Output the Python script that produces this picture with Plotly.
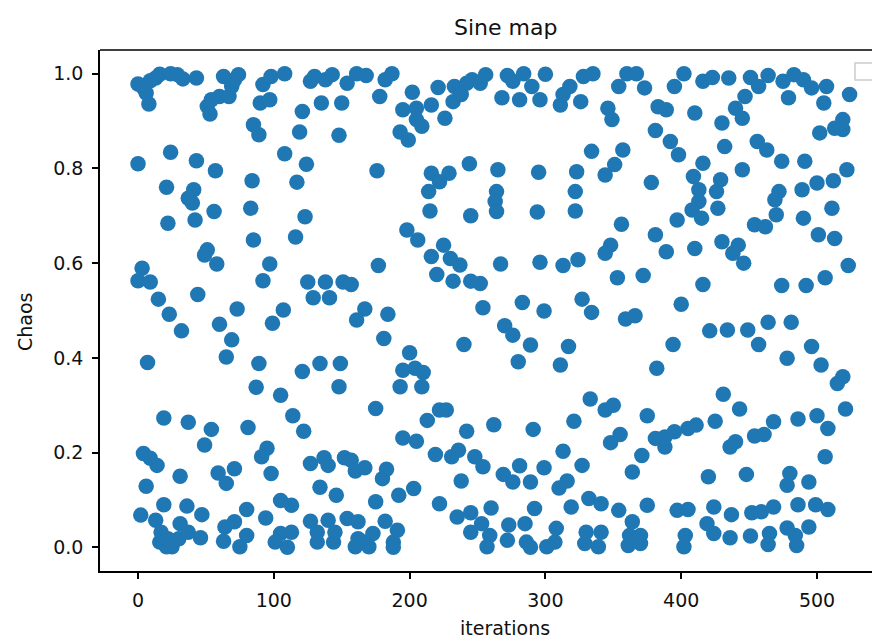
import plotly.graph_objects as go

# Sine map orbit: iteration index and state value
iterations = [
    0, 4, 6, 8, 9, 13, 16, 24, 29, 33, 43, 51, 53, 54, 60, 67, 69, 71, 63, 74,
    85, 89, 92, 90, 97, 98, 108, 108, 84, 83, 56, 42, 22, 21, 37, 41, 40, 57, 43, 24, 0,
    127, 130, 138, 143, 154, 161, 168, 182, 187, 178, 135, 150, 121, 119, 148, 124, 117, 123,
    176, 202, 221, 195, 205, 216, 209, 205, 193, 199, 226, 232, 233, 238, 242, 246, 244,
    216, 229, 222, 214, 215, 245, 198,
    252, 256, 272, 276, 284, 290, 300, 268, 281, 296, 311, 313, 318, 326, 328, 335, 354,
    360, 367, 373, 346, 349, 383, 381, 334, 357, 351, 344, 323, 295, 265, 264, 263, 264,
    294, 322, 322, 378, 356,
    402, 395, 416, 423, 435, 451, 457, 464, 475, 483, 490, 496, 507, 479, 505, 524, 447,
    440, 445, 430, 410, 389, 392, 398, 432, 456, 463, 416, 445, 474, 491, 502, 513, 519,
    519, 522, 512, 500, 489, 472, 469, 470, 490, 511, 429, 426, 427, 409, 413, 413, 408,
    415, 397, 454,
    85, 116, 51, 49, 58, 97, 92, 3, 0, 9, 15, 23, 32, 44, 73, 60, 69, 65, 7, 89, 87, 105, 107, 99,
    206, 225, 216, 230, 237, 220, 232, 245, 177, 125, 138, 151, 157, 129, 141, 167, 161, 184,
    181, 240, 200, 195, 204, 210, 209, 193, 134, 149, 121, 148,
    381, 348, 344, 353, 372, 267, 296, 313, 324, 252, 254, 283, 299, 327, 334, 359, 366, 270,
    276, 289, 317, 280, 311, 382,
    389, 410, 430, 442, 438, 446, 462, 501, 513, 523, 506, 492, 474, 416, 400, 421, 434, 449,
    464, 481, 457, 496, 478, 503, 519, 515, 394, 431,
    19, 37, 54, 81, 114, 49, 4, 9, 14, 31, 6, 59, 65, 71, 95, 91, 98, 19, 36, 47, 80, 94, 105,
    2, 13, 17, 16, 25, 21, 22, 31, 30, 37, 46, 64, 71, 63, 75, 80, 105, 101, 110,
    175, 122, 222, 227, 213, 195, 205, 242, 219, 231, 236, 248, 127, 137, 140, 152, 157, 160,
    167, 180, 183, 134, 146, 175, 192, 203, 222, 238, 113, 235, 245, 127, 140, 154, 162, 182,
    191, 113, 132, 132, 144, 145, 162, 167, 173, 188, 188, 170, 160,
    344, 350, 321, 375, 262, 291, 348, 355, 381, 313, 254, 269, 281, 276, 289, 299, 310, 316,
    327, 371, 364, 332, 341, 354, 364, 375, 319, 292, 260, 253, 273, 285, 259, 257, 272, 286,
    289, 301, 307, 308, 330, 341, 329, 339, 362, 370, 361, 370, 245, 333,
    443, 521, 500, 486, 508, 468, 425, 411, 405, 395, 388, 388, 440, 436, 454, 461, 506, 420,
    448, 480, 478, 494, 397, 405, 424, 437, 452, 459, 468, 486, 499, 508, 419, 424, 436, 451,
    465, 464, 478, 494, 484, 485, 403, 402,
]

chaos = [
    0.978, 0.970, 0.959, 0.936, 0.985, 0.991, 0.999, 1.000, 0.998, 0.989, 0.991, 0.931, 0.915,
    0.945, 0.952, 0.952, 0.973, 0.987, 0.994, 0.998,
    0.892, 0.871, 0.977, 0.938, 0.945, 0.994, 1.000, 0.831, 0.774, 0.716, 0.709, 0.691, 0.684,
    0.760, 0.737, 0.755, 0.727, 0.795, 0.816, 0.834, 0.810,
    0.984, 0.994, 0.987, 0.998, 0.980, 1.000, 0.996, 0.987, 1.000, 0.952, 0.938, 0.938, 0.920,
    0.877, 0.870, 0.809, 0.771, 0.698,
    0.795, 0.961, 0.971, 0.924, 0.927, 0.934, 0.889, 0.903, 0.877, 0.860, 0.906, 0.941, 0.973,
    0.956, 0.980, 0.987, 0.810,
    0.790, 0.790, 0.772, 0.751, 0.710, 0.700, 0.670,
    0.980, 0.998, 0.996, 0.984, 1.000, 0.973, 0.999, 0.949, 0.945, 0.945, 0.934, 0.956, 0.973,
    0.941, 0.994, 1.000, 0.973,
    1.000, 1.000, 0.970, 0.927, 0.903, 0.930, 0.880, 0.836, 0.839, 0.808, 0.786, 0.793, 0.792,
    0.797, 0.751, 0.730, 0.709,
    0.708, 0.751, 0.710, 0.770, 0.682,
    1.000, 0.973, 0.984, 0.992, 0.991, 0.992, 0.973, 0.996, 0.984, 0.998, 0.987, 0.970, 0.973,
    0.949, 0.938, 0.956, 0.952,
    0.927, 0.906, 0.896, 0.917, 0.924, 0.857, 0.829, 0.846, 0.857, 0.839, 0.811, 0.797, 0.815,
    0.815, 0.875, 0.885, 0.903,
    0.882, 0.797, 0.774, 0.769, 0.755, 0.751, 0.734, 0.702, 0.695, 0.716, 0.776, 0.751, 0.716,
    0.783, 0.755, 0.730, 0.712,
    0.695, 0.691, 0.681,
    0.649, 0.655, 0.628, 0.617, 0.598, 0.598, 0.563, 0.589, 0.563, 0.560, 0.524, 0.492, 0.457,
    0.534, 0.503, 0.471, 0.438, 0.402, 0.390, 0.388, 0.338, 0.321, 0.501, 0.473,
    0.649, 0.638, 0.614, 0.610, 0.596, 0.576, 0.562, 0.562, 0.595, 0.560, 0.560, 0.560, 0.555,
    0.527, 0.527, 0.503, 0.480, 0.492,
    0.441, 0.428, 0.411, 0.374, 0.378, 0.369, 0.339, 0.339, 0.388, 0.388, 0.371, 0.339,
    0.660, 0.638, 0.621, 0.569, 0.574, 0.598, 0.602, 0.595, 0.607, 0.557, 0.506, 0.517, 0.499,
    0.524, 0.496, 0.482, 0.489, 0.468,
    0.448, 0.427, 0.424, 0.392, 0.385, 0.378,
    0.624, 0.631, 0.645, 0.638, 0.621, 0.600, 0.677, 0.660, 0.652, 0.595, 0.569, 0.553, 0.553,
    0.555, 0.513, 0.457, 0.459, 0.459,
    0.475, 0.475, 0.428, 0.424, 0.399, 0.385, 0.360, 0.346, 0.428, 0.323,
    0.273, 0.264, 0.249, 0.253, 0.278, 0.216, 0.198, 0.188, 0.173, 0.150, 0.129, 0.157, 0.135,
    0.166, 0.209, 0.191, 0.156, 0.090, 0.087, 0.069, 0.080, 0.062, 0.099,
    0.068, 0.057, 0.032, 0.011, 0.001, 0.001, 0.018, 0.050, 0.018, 0.032, 0.020, 0.043, 0.054,
    0.013, 0.001, 0.025, 0.029, 0.011, 0.000,
    0.293, 0.245, 0.290, 0.290, 0.268, 0.231, 0.224, 0.245, 0.196, 0.191, 0.205, 0.191, 0.177,
    0.189, 0.173, 0.189, 0.184, 0.161,
    0.168, 0.145, 0.165, 0.127, 0.110, 0.096, 0.110, 0.124, 0.092, 0.140, 0.089, 0.064, 0.073,
    0.055, 0.057, 0.061, 0.054, 0.055,
    0.036, 0.032, 0.032, 0.011, 0.011, 0.032, 0.018, 0.011, 0.029, 0.011, 0.000, 0.001, 0.001,
    0.290, 0.300, 0.266, 0.278, 0.259, 0.249, 0.221, 0.238, 0.230, 0.203, 0.170, 0.154, 0.172,
    0.138, 0.138, 0.168, 0.125, 0.140,
    0.173, 0.194, 0.159, 0.103, 0.092, 0.078, 0.054, 0.089, 0.085, 0.082, 0.083, 0.050, 0.047,
    0.050, 0.025, 0.001, 0.015, 0.011,
    0.000, 0.001, 0.011, 0.040, 0.032, 0.032, 0.008, 0.001, 0.025, 0.025, 0.004, 0.008, 0.032,
    0.313,
    0.292, 0.292, 0.278, 0.271, 0.251, 0.265, 0.266, 0.258, 0.251, 0.244, 0.233, 0.212, 0.223,
    0.212, 0.235, 0.238, 0.191, 0.149,
    0.154, 0.156, 0.131, 0.138, 0.078, 0.080, 0.085, 0.069, 0.073, 0.075, 0.085, 0.090, 0.090,
    0.080, 0.050, 0.029, 0.020, 0.024,
    0.029, 0.006, 0.041, 0.043, 0.025, 0.004, 0.025, 0.001,
]

x_ticks = [0, 100, 200, 300, 400, 500]
y_ticks = [0.0, 0.2, 0.4, 0.6, 0.8, 1.0]

FONT = "DejaVu Sans, Arial, sans-serif"
BLUE = "#1f77b4"

W, H = 872, 642
L, R, T, B = 100, 0, 50, 71
plot_w = W - L - R
plot_h = H - T - B


def px_x(px):
    return (px - L) / plot_w


def px_y(py):
    return (H - B - py) / plot_h


fig = go.Figure(
    go.Scatter(
        x=iterations,
        y=chaos,
        mode="markers",
        marker=dict(color=BLUE, size=15.5, line=dict(width=0)),
        showlegend=False,
        cliponaxis=True,
    )
)

axis_common = dict(
    showgrid=False,
    zeroline=False,
    showline=True,
    linecolor="black",
    linewidth=1.5,
    ticks="outside",
    ticklen=6,
    tickwidth=1.5,
    tickcolor="black",
    tickfont=dict(family=FONT, size=19, color="#111111"),
)

fig.update_xaxes(range=[-28.0, 540.5], tickvals=x_ticks, ticktext=[str(v) for v in x_ticks],
                 ticklabelstandoff=5, **axis_common)
fig.update_yaxes(range=[-0.05, 1.05], tickvals=y_ticks, ticktext=[f"{v:.1f}" for v in y_ticks],
                 ticklabelstandoff=5, **axis_common)

fig.update_layout(
    width=W,
    height=H,
    margin=dict(l=L, r=R, t=T, b=B, pad=0),
    paper_bgcolor="white",
    plot_bgcolor="white",
    showlegend=False,
    annotations=[
        dict(text="Sine map", x=px_x(505), y=px_y(28), xref="paper", yref="paper",
             showarrow=False, xanchor="center", yanchor="middle",
             font=dict(family=FONT, size=22, color="#111111")),
        dict(text="iterations", x=px_x(505), y=px_y(628), xref="paper", yref="paper",
             showarrow=False, xanchor="center", yanchor="middle",
             font=dict(family=FONT, size=19, color="#111111")),
        dict(text="Chaos", x=px_x(25), y=px_y(322), xref="paper", yref="paper",
             showarrow=False, xanchor="center", yanchor="middle", textangle=-90,
             font=dict(family=FONT, size=19, color="#111111")),
    ],
    shapes=[
        # top spine
        dict(type="line", xref="paper", yref="paper", x0=0, x1=1, y0=1, y1=1,
             line=dict(color="black", width=1.5)),
        # empty legend frame
        dict(type="rect", xref="paper", yref="paper",
             x0=px_x(855), x1=px_x(885), y0=px_y(80), y1=px_y(63),
             line=dict(color="#cccccc", width=1.5), fillcolor="white"),
    ],
)

fig.write_html("out.html")
